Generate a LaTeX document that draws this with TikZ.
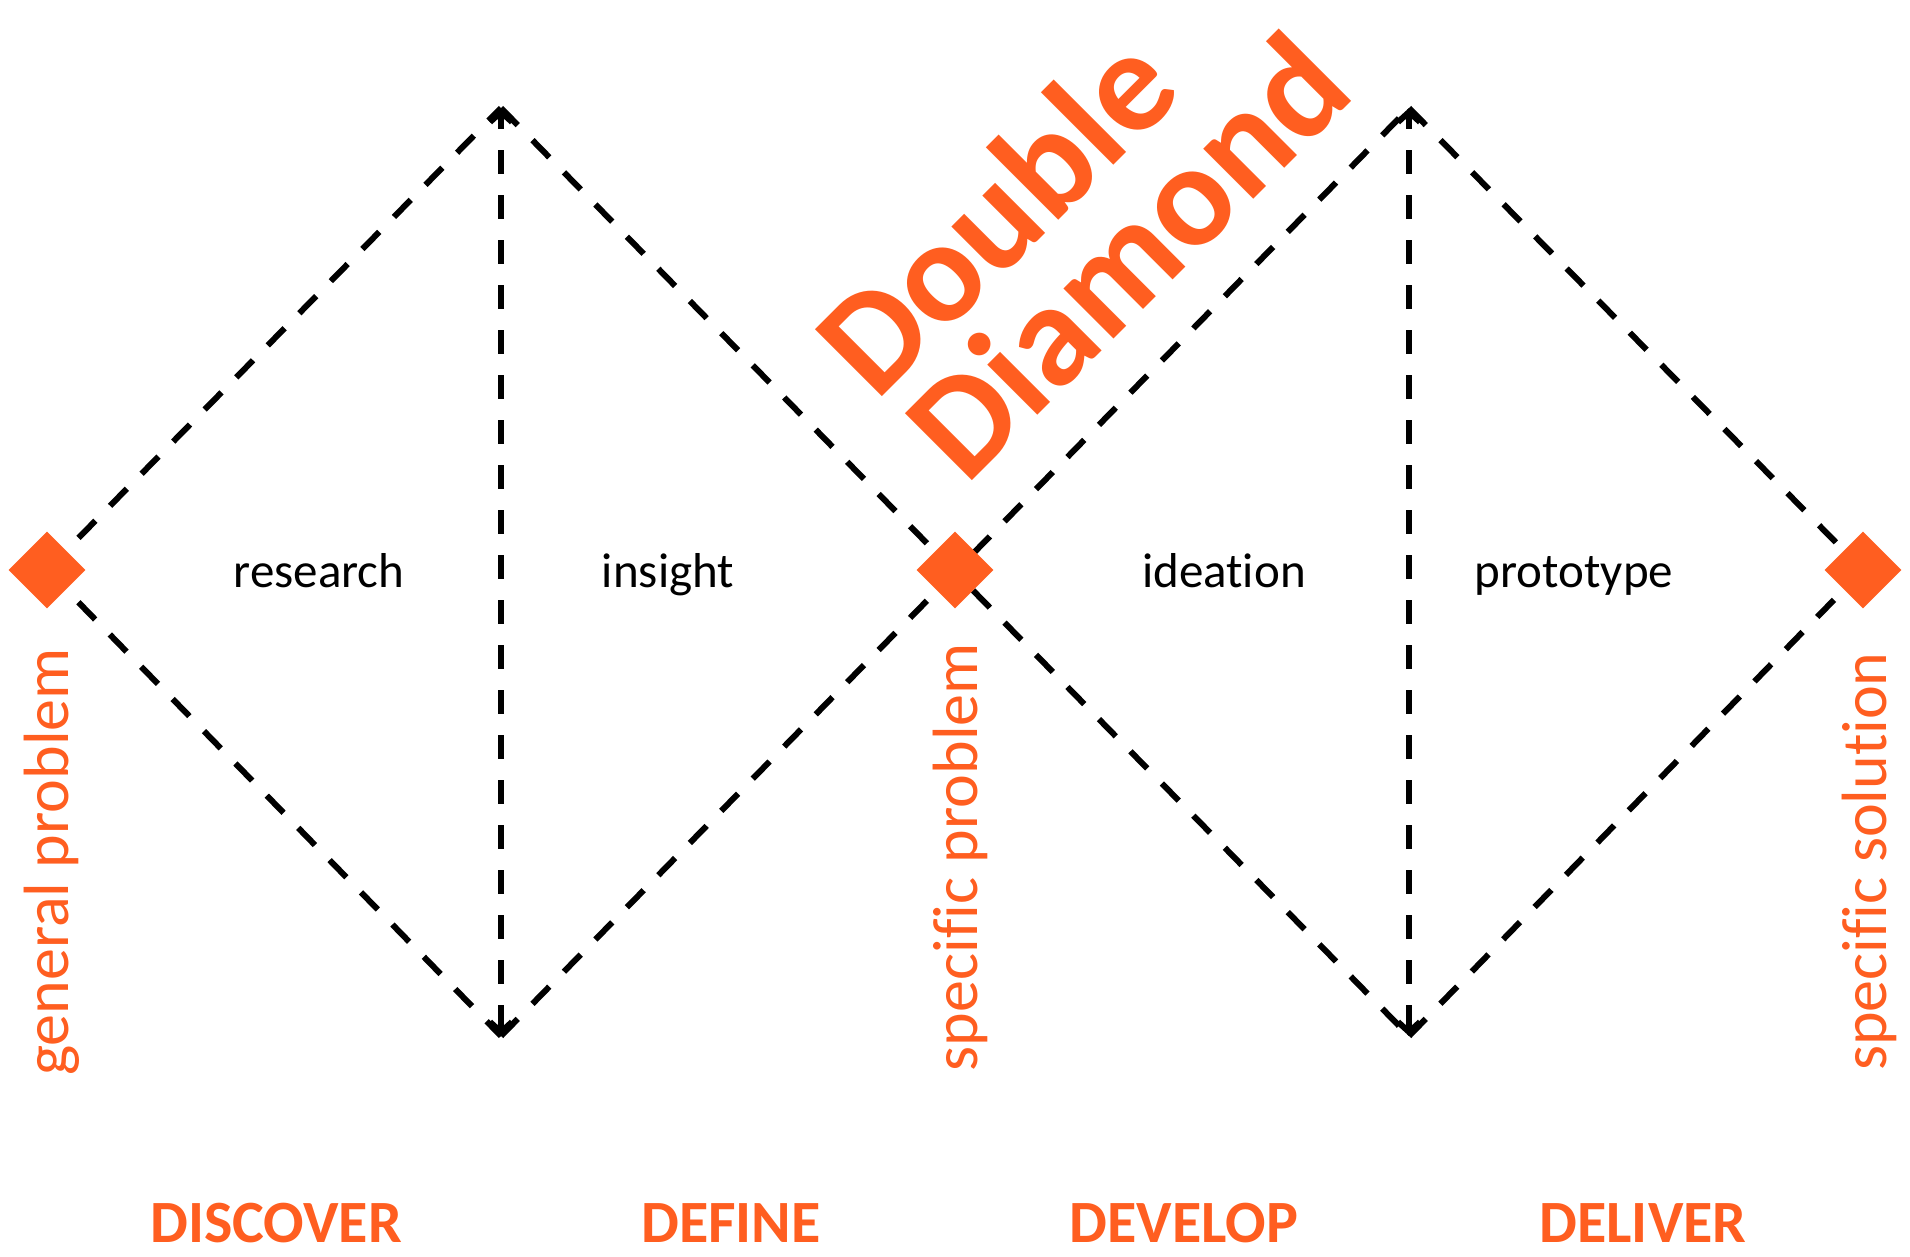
\documentclass[tikz,border=0pt]{standalone}
\usepackage{fontspec}
\setmainfont{Carlito}[Ligatures=NoCommon]
\usetikzlibrary{arrows.meta,shapes.geometric}
\definecolor{ddorange}{RGB}{255,94,32}
\begin{document}
\begin{tikzpicture}[x=1pt,y=-1pt,
  dl/.style={line width=6pt, dash pattern=on 24pt off 21pt, black},
  vl/.style={dl, {Straight Barb[length=10pt,width=22pt]}-{Straight Barb[length=10pt,width=22pt]}},
  marker/.style={diamond, fill=ddorange, inner sep=0pt, minimum width=77pt, minimum height=77pt, aspect=1},
  phase/.style={font=\fontsize{49}{55}\selectfont, inner sep=0pt, anchor=base},
  stage/.style={font=\bfseries\fontsize{60}{66}\selectfont, text=ddorange, inner sep=0pt, anchor=base},
  vlabel/.style={font=\fontsize{64}{70}\selectfont, text=ddorange, inner sep=0pt, rotate=90, anchor=base east},
  ddtitle/.style={font=\bfseries\fontsize{146}{150}\selectfont, text=ddorange, inner sep=0pt, rotate=45, anchor=base west}]
\useasboundingbox (0,0) rectangle (1910,1256);
\fill[white] (0,0) rectangle (1910,1256);
% apexes
\coordinate (t1) at (501,108);
\coordinate (b1) at (501,1036);
\coordinate (t2) at (1409,108);
\coordinate (b2) at (1409,1036);
% marker positions
\coordinate (p1) at (47,570);
\coordinate (p2) at (955,570);
\coordinate (p3) at (1863,570);
% dashed diamonds
\draw[dl] (p1) -- (t1);
\draw[dl] (p1) -- (b1);
\draw[dl] (t1) -- (b2);
\draw[dl] (b1) -- (t2);
\draw[dl] (t2) -- (p3);
\draw[dl] (b2) -- (p3);
% vertical arrows
\draw[vl] (b1) -- (t1);
\draw[vl] (b2) -- (t2);
% markers
\node[marker] (m1) at (p1) {};
\node[marker] (m2) at (p2) {};
\node[marker] (m3) at (p3) {};
% phase texts
\node[phase] (research) at (319,587) {research};
\node[phase] (insight) at (668,587) {insight};
\node[phase] (ideation) at (1224,587) {ideation};
\node[phase] (prototype) at (1574,587) {prototype};
% stage texts
\node[stage] (discover) at (276,1242) {DISCOVER};
\node[stage] (define) at (731,1242) {DEFINE};
\node[stage] (develop) at (1184,1242) {DEVELOP};
\node[stage] (deliver) at (1643,1242) {DELIVER};
% vertical labels
\node[vlabel] (gp) at (68,648) {general problem};
\node[vlabel] (sp) at (977,643) {specific problem};
\node[vlabel] (ss) at (1886,652) {specific solution};
% title
\node[ddtitle] (double) at (876,403) {Double};
\node[ddtitle] (diamond) at (966,487) {Diamond};
\end{tikzpicture}
\end{document}
